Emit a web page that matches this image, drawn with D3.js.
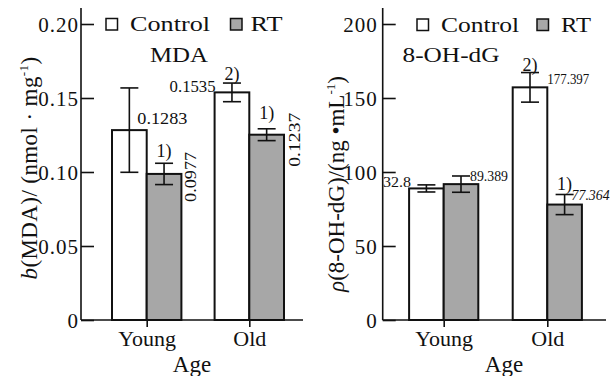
<!DOCTYPE html>
<html>
<head>
<meta charset="utf-8">
<script src="https://cdn.jsdelivr.net/npm/d3@7"></script>
<style>
  html, body { margin: 0; padding: 0; background: #fff; }
  svg { display: block; font-family: "Liberation Serif", "Times New Roman", serif; }
</style>
</head>
<body>
<svg id="chart" width="616" height="376"></svg>
<script>
// ---------------- DATA ----------------
const categories = ["Young", "Old"];
const series = ["Control", "RT"];

// Panel 1: MDA
const mdaControl = [0.1283, 0.1538];
const mdaRT = [0.0987, 0.1252];
const mdaControlErr = [0.0285, 0.0063];
const mdaRTErr = [0.0072, 0.0040];
const mdaTicks = [0, 0.05, 0.10, 0.15, 0.20];
const mdaTickLabels = ["0", "0.05", "0.10", "0.15", "0.20"];
const mdaControlText = ["0.1283", "0.1535"];
const mdaRTText = ["0.0977", "0.1237"];
const mdaControlSig = ["", "2)"];
const mdaRTSig = ["1)", "1)"];

// Panel 2: 8-OH-dG
const ohdgControl = [88.9, 157.2];
const ohdgRT = [91.8, 78.0];
const ohdgControlErr = [2.4, 10.0];
const ohdgRTErr = [5.5, 6.8];
const ohdgTicks = [0, 50, 100, 150, 200];
const ohdgTickLabels = ["0", "50", "100", "150", "200"];
const ohdgControlText = ["32.8", "177.397"];
const ohdgRTText = ["89.389", "77.364"];
const ohdgControlSig = ["", "2)"];
const ohdgRTSig = ["", "1)"];

// ---------------- DRAWING ----------------
const svg = d3.select("#chart");
const GRAY = "#a7a7a7";

function drawPanel(cfg) {
  const g = svg.append("g");
  const y = d3.scaleLinear().domain(cfg.domain).range([320, 24]);
  const x0 = d3.scalePoint().domain(categories).range(cfg.centers);
  const x1 = d3.scaleBand().domain(series).range([-cfg.barW, cfg.barW]);
  const bw = x1.bandwidth();

  const rows = [];
  categories.forEach((c, i) => {
    series.forEach((s, j) => {
      rows.push({
        cat: c, ser: s, i, j,
        v: cfg.values[j][i], e: cfg.errs[j][i],
        text: cfg.texts[j][i], sig: cfg.sigs[j][i],
        place: cfg.place[j][i], sigDy: cfg.sigDy[j][i]
      });
    });
  });

  // bars
  g.selectAll("rect.bar").data(rows).join("rect")
    .attr("class", "bar")
    .attr("x", d => x0(d.cat) + x1(d.ser))
    .attr("y", d => y(d.v))
    .attr("width", bw)
    .attr("height", d => y(0) - y(d.v))
    .attr("fill", d => d.ser === "RT" ? GRAY : "#fff")
    .attr("stroke", "#111")
    .attr("stroke-width", 2);

  // error bars
  const cap = 9;
  const eb = g.selectAll("g.err").data(rows).join("g").attr("class", "err")
    .attr("stroke", "#111").attr("stroke-width", 1.6);
  eb.append("line")
    .attr("x1", d => x0(d.cat) + x1(d.ser) + bw / 2)
    .attr("x2", d => x0(d.cat) + x1(d.ser) + bw / 2)
    .attr("y1", d => y(d.v + d.e)).attr("y2", d => y(d.v - d.e));
  eb.append("line")
    .attr("x1", d => x0(d.cat) + x1(d.ser) + bw / 2 - cap)
    .attr("x2", d => x0(d.cat) + x1(d.ser) + bw / 2 + cap)
    .attr("y1", d => y(d.v + d.e)).attr("y2", d => y(d.v + d.e));
  eb.append("line")
    .attr("x1", d => x0(d.cat) + x1(d.ser) + bw / 2 - cap)
    .attr("x2", d => x0(d.cat) + x1(d.ser) + bw / 2 + cap)
    .attr("y1", d => y(d.v - d.e)).attr("y2", d => y(d.v - d.e));

  // axes lines
  g.append("line").attr("x1", cfg.axisX).attr("x2", cfg.axisX)
    .attr("y1", 8).attr("y2", y(0)).attr("stroke", "#111").attr("stroke-width", 1.6);
  g.append("line").attr("x1", cfg.axisX).attr("x2", cfg.xEnd)
    .attr("y1", y(0)).attr("y2", y(0)).attr("stroke", "#111").attr("stroke-width", 1.6);

  // y axis ticks (inward)
  const yAxis = d3.axisLeft(y).tickValues(cfg.ticks)
    .tickFormat((d, k) => cfg.tickLabels[k])
    .tickSizeInner(-13).tickSizeOuter(0).tickPadding(cfg.tickPad);
  const ya = g.append("g").attr("transform", `translate(${cfg.axisX},0)`).call(yAxis);
  ya.select(".domain").remove();
  ya.selectAll(".tick line").attr("stroke", "#111").attr("stroke-width", 1.6);
  ya.selectAll(".tick text").attr("font-family", "Liberation Serif")
    .attr("font-size", 21).attr("fill", "#111").attr("dy", "0.36em")
    .style("letter-spacing", "1px");

  // x axis ticks
  const xAxis = d3.axisBottom(x0).tickSizeInner(7).tickSizeOuter(0).tickPadding(3);
  const xa = g.append("g").attr("transform", `translate(0,${y(0)})`).call(xAxis);
  xa.select(".domain").remove();
  xa.selectAll(".tick line").attr("stroke", "#111").attr("stroke-width", 1.6);
  xa.selectAll(".tick text").attr("font-family", "Liberation Serif")
    .attr("font-size", 22).attr("fill", "#111").attr("dy", "0")
    .attr("y", 26);

  // x axis title
  g.append("text").attr("x", cfg.ageX).attr("y", 371.5)
    .attr("text-anchor", "middle").attr("font-size", 23).attr("fill", "#111")
    .text("Age");

  // value labels
  rows.forEach(d => {
    const p = d.place;
    const left = x0(d.cat) + x1(d.ser);
    const ref = { left: left, right: left + bw, center: left + bw / 2 }[p.ref];
    const yy = p.yref === "err" ? y(d.v + d.e) : y(d.v);
    const t = g.append("text")
      .attr("font-size", p.fs).attr("fill", "#111")
      .attr("textLength", p.len).attr("lengthAdjust", "spacingAndGlyphs")
      .text(d.text);
    if (p.italic) t.attr("font-style", "italic");
    if (p.rot) {
      t.attr("text-anchor", "start")
        .attr("transform", `translate(${ref + p.dx},${yy + p.dy}) rotate(-90)`);
    } else {
      t.attr("text-anchor", p.anchor).attr("x", ref + p.dx).attr("y", yy + p.dy);
    }
    if (d.sig) {
      g.append("text").attr("x", left + bw / 2).attr("y", y(d.v + d.e) - d.sigDy)
        .attr("text-anchor", "middle").attr("font-size", 18).attr("fill", "#111")
        .text(d.sig);
    }
  });

  // legend
  const lg = g.append("g");
  cfg.legend.forEach((L, k) => {
    lg.append("rect").attr("x", L.bx).attr("y", cfg.legendY)
      .attr("width", 11.5).attr("height", 11.5)
      .attr("fill", series[k] === "RT" ? GRAY : "#fff")
      .attr("stroke", "#111").attr("stroke-width", 1.5);
    lg.append("text").attr("x", L.tx).attr("y", cfg.legendY + 12.5)
      .attr("font-size", 22).attr("fill", "#111")
      .attr("textLength", L.len).attr("lengthAdjust", "spacingAndGlyphs")
      .text(series[k]);
  });

  // panel title
  g.append("text").attr("x", cfg.title.x).attr("y", 62).attr("text-anchor", "middle")
    .attr("font-size", 21).attr("fill", "#111")
    .attr("textLength", cfg.title.len).attr("lengthAdjust", "spacingAndGlyphs")
    .text(cfg.title.text);

  // y axis title
  const yt = g.append("text")
    .attr("transform", `translate(${cfg.yTitle.x},${cfg.yTitle.y}) rotate(-90)`)
    .attr("text-anchor", "middle").attr("font-size", 23).attr("fill", "#111")
    .style("letter-spacing", cfg.yTitle.ls + "px");
  yt.append("tspan").attr("font-style", "italic").text(cfg.yTitle.sym);
  yt.append("tspan").text(cfg.yTitle.main);
  yt.append("tspan").attr("font-size", 13).attr("dy", -9).text("-1");
  yt.append("tspan").attr("dy", 9).text(")");
}

drawPanel({
  domain: [0, 0.2], ticks: mdaTicks, tickLabels: mdaTickLabels, tickPad: 2,
  axisX: 81, xEnd: 303, centers: [146.7, 249.3], barW: 34.7,
  values: [mdaControl, mdaRT], errs: [mdaControlErr, mdaRTErr],
  texts: [mdaControlText, mdaRTText], sigs: [mdaControlSig, mdaRTSig],
  sigDy: [[0, 3], [6, 10]],
  place: [
    [{ ref: "center", dx: 8, dy: -6, anchor: "start", fs: 17, len: 50 },
     { ref: "left", dx: 1, dy: -0.5, anchor: "end", fs: 17, len: 46 }],
    [{ ref: "right", dx: 15, dy: 28, rot: true, fs: 17, len: 50 },
     { ref: "right", dx: 16, dy: 32, rot: true, fs: 17, len: 54 }]
  ],
  legendY: 18.5,
  legend: [{ bx: 106, tx: 130, len: 80 }, { bx: 230.5, tx: 250.5, len: 32 }],
  title: { text: "MDA", x: 179, len: 58 },
  yTitle: { x: 37, y: 168, sym: "b", main: "(MDA)/ (nmol · mg", ls: 0.4 },
  ageX: 192
});

drawPanel({
  domain: [0, 200], ticks: ohdgTicks, tickLabels: ohdgTickLabels, tickPad: 5,
  axisX: 382.7, xEnd: 606, centers: [443.7, 547.3], barW: 34.6,
  values: [ohdgControl, ohdgRT], errs: [ohdgControlErr, ohdgRTErr],
  texts: [ohdgControlText, ohdgRTText], sigs: [ohdgControlSig, ohdgRTSig],
  sigDy: [[0, 2], [0, 4]],
  place: [
    [{ ref: "left", dx: 2, dy: -1, anchor: "end", fs: 15, len: 28 },
     { ref: "right", dx: 0, dy: -3, anchor: "start", fs: 15, len: 42 }],
    [{ ref: "center", dx: 9, dy: 5, anchor: "start", fs: 15, len: 38, yref: "err" },
     { ref: "center", dx: 7, dy: 6, anchor: "start", fs: 15, len: 38, yref: "err", italic: true }]
  ],
  legendY: 19,
  legend: [{ bx: 417, tx: 441, len: 78 }, { bx: 537, tx: 561, len: 30 }],
  title: { text: "8-OH-dG", x: 451, len: 97 },
  yTitle: { x: 344, y: 184, sym: "ρ", main: "(8-OH-dG)/(ng •mL", ls: 0 },
  ageX: 504
});
</script>
</body>
</html>
